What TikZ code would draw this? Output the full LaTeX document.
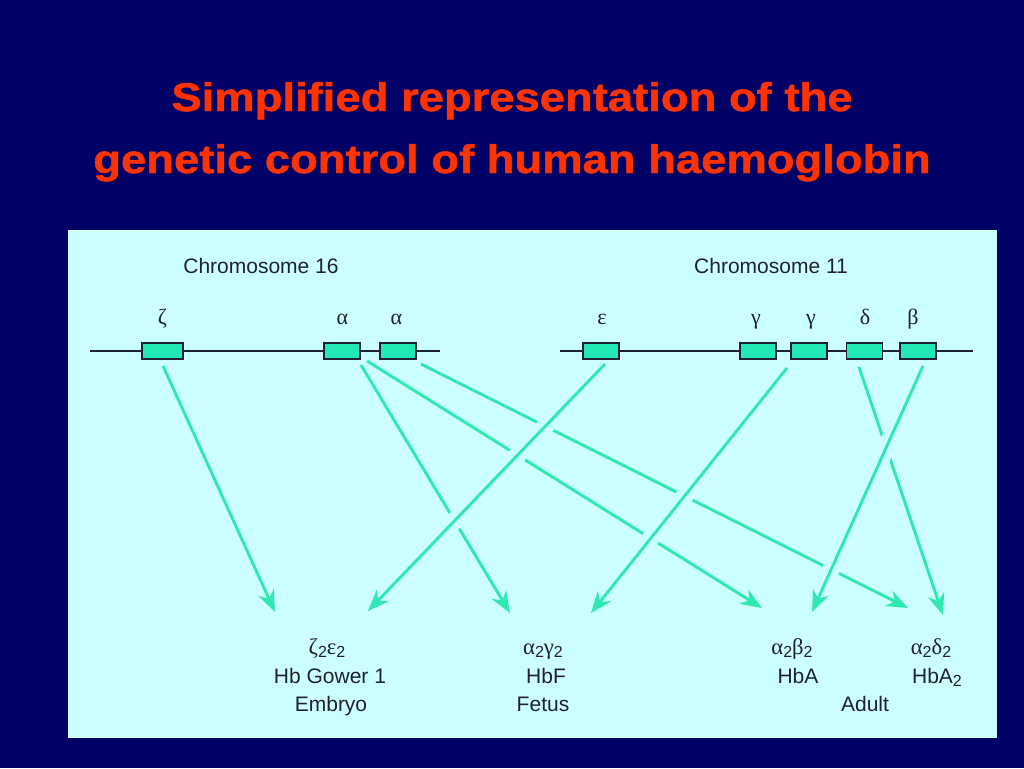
\documentclass[tikz,border=0pt]{standalone}
\usepackage{fontspec}
\setmainfont{Liberation Sans}
\newfontfamily\grkfont{Liberation Serif}
\newfontfamily\lsans{Liberation Sans}
\newfontfamily\ttlfont{Liberation Sans Bold}[FakeBold=1.2]
\usetikzlibrary{arrows.meta}
\definecolor{navy}{HTML}{000066}
\definecolor{panel}{HTML}{CCFFFF}
\definecolor{titlered}{HTML}{FF3300}
\definecolor{gene}{HTML}{22E8B4}
\definecolor{arrowc}{HTML}{30E8B2}
\definecolor{ink}{HTML}{1E2233}
\newcommand\subtwo{\raisebox{-0.35ex}{\lsans\fontsize{12}{13}\selectfont 2}}
\begin{document}
\begin{tikzpicture}[x=0.75pt,y=-0.75pt,
  titletext/.style={text=titlered,font=\ttlfont\fontsize{30}{34}\selectfont,inner sep=0pt,anchor=base},
  chrlbl/.style={text=ink,font=\fontsize{15.75}{18}\selectfont,inner sep=0pt,anchor=base},
  genelbl/.style={text=ink,font=\grkfont\fontsize{16.5}{18}\selectfont,inner sep=0pt,anchor=base},
  hblbl/.style={text=ink,font=\fontsize{15.75}{18}\selectfont,inner sep=0pt,anchor=base},
  hbgrk/.style={text=ink,font=\grkfont\fontsize{17}{19}\selectfont,inner sep=0pt,anchor=base},
  chrom/.style={draw=ink,line width=1.4pt},
  genebox/.style={draw=ink,fill=gene,line width=1.1pt,rectangle,inner sep=0pt,minimum width=27pt,minimum height=12pt},
  link/.style={draw=arrowc,line width=2.2pt,-{Stealth[length=16pt,width=12.5pt,inset=5pt]}},
  overlink/.style={link,preaction={draw=panel,line width=13pt,arrows=-,shorten >=22pt}}
]
\useasboundingbox (0,0) rectangle (1024,768);
\fill[navy] (0,0) rectangle (1024,768);
\fill[panel] (68,230) rectangle (997,738);

% title
\node[titletext] (t1) at (512,111) {\scalebox{1.135}[1]{Simplified representation of the}};
\node[titletext] (t2) at (512,173) {\scalebox{1.135}[1]{genetic control of human haemoglobin}};

% chromosome labels
\node[chrlbl] (c16) at (261,273) {Chromosome 16};
\node[chrlbl] (c11) at (771,273) {Chromosome 11};

% arrow endpoints
\coordinate (zS) at (163,366);   \coordinate (zE) at (275,612);
\coordinate (a1S) at (361,365);  \coordinate (a1E) at (510,613);
\coordinate (a2S) at (367,361);  \coordinate (a2E) at (762,608);
\coordinate (a3S) at (421,364);  \coordinate (a3E) at (908,608);
\coordinate (dS) at (859,367);   \coordinate (dE) at (943,615);
\coordinate (eS) at (605,364);   \coordinate (eE) at (368,611);
\coordinate (gS) at (787,368);   \coordinate (gE) at (591,613);
\coordinate (bS) at (923,366);   \coordinate (bE) at (812,612);

% under links
\draw[link] (zS) -- (zE);
\draw[link] (a1S) -- (a1E);
\draw[link] (a2S) -- (a2E);
\draw[link] (a3S) -- (a3E);
\draw[link] (dS) -- (dE);
% over links
\draw[overlink] (eS) -- (eE);
\draw[overlink] (gS) -- (gE);
\draw[overlink] (bS) -- (bE);

% chromosome 16
\coordinate (l16a) at (90,351); \coordinate (l16b) at (440,351);
\draw[chrom] (l16a) -- (l16b);
\node[genebox,minimum width=30.75pt] (zbox) at (162.5,351) {};
\node[genebox] (a1box) at (342,351) {};
\node[genebox] (a2box) at (398,351) {};
\node[genelbl] (zl) at (162.5,324) {ζ};
\node[genelbl] (a1l) at (342.5,324) {α};
\node[genelbl] (a2l) at (396.5,324) {α};

% chromosome 11
\coordinate (l11a) at (560,351); \coordinate (l11b) at (973,351);
\draw[chrom] (l11a) -- (l11b);
\node[genebox] (ebox) at (601,351) {};
\node[genebox] (g1box) at (758,351) {};
\node[genebox] (g2box) at (809,351) {};
\node[genebox] (dbox) at (864.5,351) {};
\node[genebox] (bbox) at (918,351) {};
\node[genelbl] (el) at (602,324) {ε};
\node[genelbl] (g1l) at (756,324) {γ};
\node[genelbl] (g2l) at (811,324) {γ};
\node[genelbl] (dl) at (865,324) {δ};
\node[genelbl] (bl) at (913,324) {β};

% haemoglobin labels
\node[hbgrk] (hb1g) at (327,654) {ζ\subtwo ε\subtwo};
\node[hblbl] (hb1n) at (330,683) {Hb Gower 1};
\node[hblbl] (hb1s) at (331,711) {Embryo};
\node[hbgrk] (hb2g) at (543,654) {α\subtwo γ\subtwo};
\node[hblbl] (hb2n) at (546,683) {HbF};
\node[hblbl] (hb2s) at (543,711) {Fetus};
\node[hbgrk] (hb3g) at (792,654) {α\subtwo β\subtwo};
\node[hblbl] (hb3n) at (798,683) {HbA};
\node[hbgrk] (hb4g) at (931,654) {α\subtwo δ\subtwo};
\node[hblbl] (hb4n) at (937,683) {HbA\subtwo};
\node[hblbl] (adult) at (865,711) {Adult};
\end{tikzpicture}
\end{document}
